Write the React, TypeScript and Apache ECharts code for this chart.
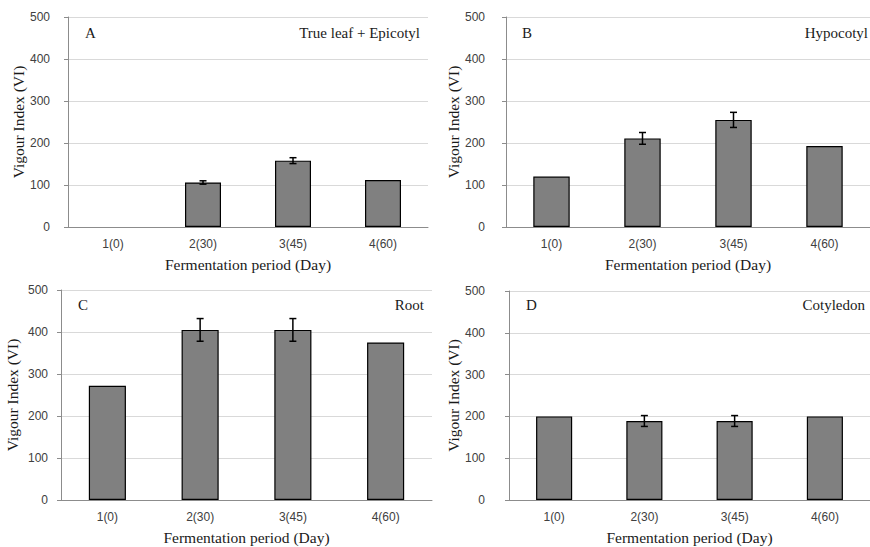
import React, { useEffect, useRef } from "react";
import * as echarts from "echarts";

const categories = ["1(0)", "2(30)", "3(45)", "4(60)"];
const panelLetters = ["A", "B", "C", "D"];
const panelNames = ["True leaf + Epicotyl", "Hypocotyl", "Root", "Cotyledon"];
const valuesA = [0, 106, 158, 112];
const errorsA = [0, 4, 7, 0];
const valuesB = [120, 211, 255, 193];
const errorsB = [0, 14, 18, 0];
const valuesC = [272, 405, 405, 375];
const errorsC = [0, 27, 27, 0];
const valuesD = [200, 189, 189, 200];
const errorsD = [0, 13, 13, 0];
const yTicks = [0, 100, 200, 300, 400, 500];
const xTitle = "Fermentation period (Day)";
const yTitle = "Vigour Index (VI)";

const allValues = [valuesA, valuesB, valuesC, valuesD];
const allErrors = [errorsA, errorsB, errorsC, errorsD];

const grids = [
  { left: 68, top: 17, width: 360, height: 210 },
  { left: 506, top: 17, width: 370, height: 210 },
  { left: 61, top: 290, width: 371, height: 210 },
  { left: 509, top: 291, width: 366, height: 209 },
];
const yNameGaps = [37, 35, 41, 37];
const yLabelMargins = [18, 21, 13, 24];
const letterPos = [
  { x: 85, y: 33 },
  { x: 522, y: 33 },
  { x: 78, y: 305 },
  { x: 526, y: 305 },
];
const namePos = [
  { x: 420, y: 33 },
  { x: 868, y: 33 },
  { x: 424, y: 305 },
  { x: 865, y: 305 },
];

const SERIF = "'Liberation Serif', 'Times New Roman', serif";
const SANS = "'Liberation Sans', Arial, sans-serif";

export default function App() {
  const ref = useRef<HTMLDivElement>(null);
  useEffect(() => {
    document.body.style.margin = "0";
    if (!ref.current) return;
    const chart = echarts.init(ref.current, undefined, { renderer: "svg" });

    const xAxis = grids.map((_, i) => ({
      type: "category",
      gridIndex: i,
      data: categories,
      axisLine: { show: true, lineStyle: { color: "#8c8c8c", width: 1 } },
      axisTick: { show: false },
      axisLabel: { color: "#404040", fontSize: 12, fontFamily: SANS, margin: 11 },
      name: xTitle,
      nameLocation: "middle",
      nameGap: 29,
      nameTextStyle: { color: "#1a1a1a", fontSize: 15.5, fontFamily: SERIF },
    }));
    const yAxis = grids.map((_, i) => ({
      type: "value",
      gridIndex: i,
      min: yTicks[0],
      max: yTicks[yTicks.length - 1],
      interval: yTicks[1] - yTicks[0],
      axisLine: { show: true, lineStyle: { color: "#8c8c8c", width: 1 } },
      axisTick: { show: true, length: 4, lineStyle: { color: "#8c8c8c" } },
      splitLine: { show: true, lineStyle: { color: "#d9d9d9", width: 1 } },
      axisLabel: { color: "#404040", fontSize: 12, fontFamily: SANS, margin: yLabelMargins[i] },
      name: yTitle,
      nameLocation: "middle",
      nameGap: yNameGaps[i],
      nameTextStyle: { color: "#1a1a1a", fontSize: 15.5, fontFamily: SERIF },
    }));

    const series: any[] = [];
    allValues.forEach((vals, i) => {
      series.push({
        type: "bar",
        xAxisIndex: i,
        yAxisIndex: i,
        barWidth: "40%",
        data: vals.map((v) => ({
          value: v,
          itemStyle: { borderWidth: v === 0 ? 0 : 1.2 },
        })),
        itemStyle: { color: "#808080", borderColor: "#000000", borderWidth: 1.2 },
        silent: true,
      });
      series.push({
        type: "custom",
        xAxisIndex: i,
        yAxisIndex: i,
        data: vals.map((v, j) => [j, v, allErrors[i][j]]),
        renderItem: (params: any, api: any) => {
          const err = api.value(2);
          if (!err) return null;
          const x = api.value(0);
          const v = api.value(1);
          const top = api.coord([x, v + err]);
          const bot = api.coord([x, v - err]);
          const cap = 3.5;
          const style = { stroke: "#000", lineWidth: 1.5 };
          return {
            type: "group",
            children: [
              { type: "line", shape: { x1: top[0], y1: top[1], x2: bot[0], y2: bot[1] }, style },
              { type: "line", shape: { x1: top[0] - cap, y1: top[1], x2: top[0] + cap, y2: top[1] }, style },
              { type: "line", shape: { x1: bot[0] - cap, y1: bot[1], x2: bot[0] + cap, y2: bot[1] }, style },
            ],
          };
        },
        z: 5,
        silent: true,
      });
    });

    const graphic: any[] = [];
    panelLetters.forEach((l, i) => {
      graphic.push({
        type: "text",
        x: letterPos[i].x,
        y: letterPos[i].y,
        style: { text: l, fill: "#1a1a1a", font: `15px ${SERIF}`, textAlign: "left", textVerticalAlign: "middle" },
      });
      graphic.push({
        type: "text",
        x: namePos[i].x,
        y: namePos[i].y,
        style: { text: panelNames[i], fill: "#1a1a1a", font: `15px ${SERIF}`, textAlign: "right", textVerticalAlign: "middle" },
      });
    });

    chart.setOption({
      animation: false,
      backgroundColor: "#ffffff",
      grid: grids,
      xAxis,
      yAxis,
      series,
      graphic,
    });
    return () => chart.dispose();
  }, []);
  return <div ref={ref} style={{ position: "absolute", left: 0, top: 0, width: 870, height: 547 }} />;
}
